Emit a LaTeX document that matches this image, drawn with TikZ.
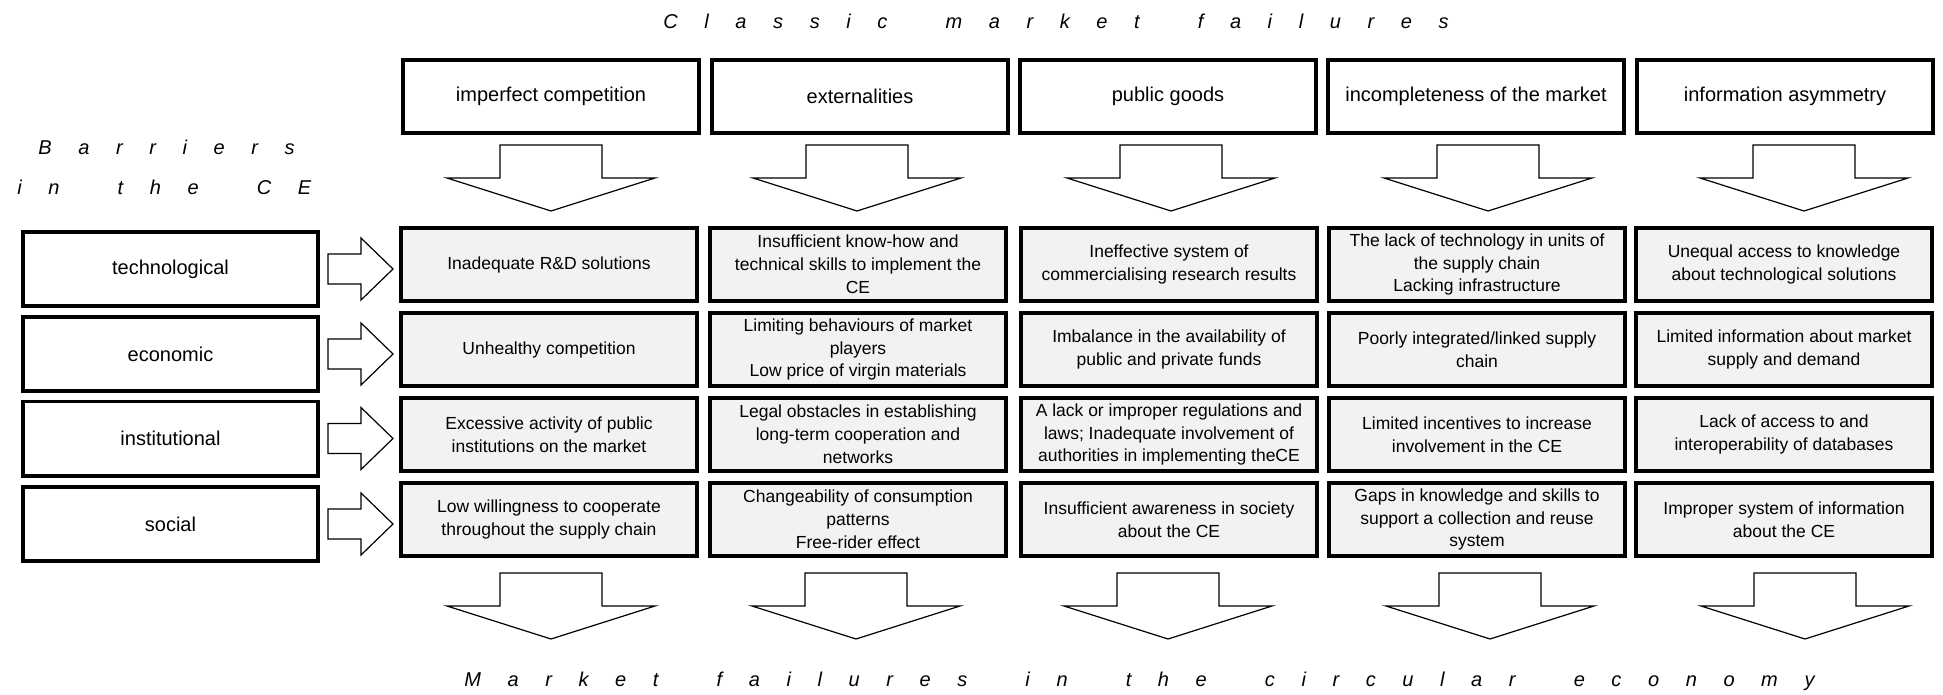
\documentclass[tikz,border=0pt]{standalone}
\usepackage{fontspec}
\setmainfont{Liberation Sans}
\usetikzlibrary{calc}
\definecolor{cellGray}{RGB}{242,242,242}
\newcommand{\wordGap}{\hspace{13pt}}

\begin{document}
\begin{tikzpicture}
[x=0.5pt,y=-0.5pt,
  boxDecorate/.style={draw,line width=1.8pt,inner sep=1pt,align=center},
  headDecorate/.style={boxDecorate,minimum width=148.2pt,minimum height=36.7pt,
    font={\fontsize{10}{12}\selectfont}},
  barrierDecorate/.style={boxDecorate,minimum width=147.7pt,minimum height=37.2pt,
    font={\fontsize{10}{12}\selectfont}},
  cellDecorate/.style={boxDecorate,fill=cellGray,minimum width=148.2pt,minimum height=36.7pt,
    font={\fontsize{8.75}{11.4}\selectfont}},
  titleDecorate/.style={anchor=west,inner sep=0pt,
    font={\fontsize{10}{12}\selectfont\itshape\addfontfeature{LetterSpace=133}}},
  arrowDecorate/.style={draw,line width=0.6pt,fill=white,line join=miter},
  downArrow/.pic={\draw[arrowDecorate] (-51,0) -- (51,0) -- (51,33) -- (104,33)
    -- (0,66) -- (-104,33) -- (-51,33) -- cycle;},
  rightArrow/.pic={\draw[arrowDecorate] (0,-15) -- (33,-15) -- (33,-31) -- (65,0)
    -- (33,31) -- (33,15) -- (0,15) -- cycle;}]
\useasboundingbox (0,0) rectangle (1943,695);
%% titles
\node[titleDecorate] (classic) at (663,21) {Classic \wordGap market \wordGap failures};
\node[titleDecorate] (barriers) at (38,147) {Barriers};
\node[titleDecorate] (inthece) at (17,187) {in \wordGap the \wordGap CE};
\node[titleDecorate] (circular) at (464,681)
  {Market \wordGap failures \wordGap in \wordGap the \wordGap circular \wordGap economy};
%% classic market failures
\foreach \nodename/\x/\txt in {
  h1/551/imperfect competition,
  h2/860/externalities,
  h3/1168/public goods,
  h4/1476/incompleteness of the market,
  h5/1785/information asymmetry}
{
  \node (\nodename) at (\x,96.5) [headDecorate] {\txt};
}
%% barriers in the CE
\foreach \nodename/\y/\txt in {
  b1/269/technological,
  b2/354/economic,
  b3/438.5/institutional,
  b4/524/social}
{
  \node (\nodename) at (170.5,\y) [barrierDecorate] {\txt};
}
%% market failures in the CE
\foreach \nodename/\x/\y/\txt in {
  c1-1/549/264.5/{Inadequate R\&D solutions},
  c2-1/858/264.5/{Insufficient know-how and\\technical skills to implement the\\CE},
  c3-1/1169/264.5/{Ineffective system of\\commercialising research results},
  c4-1/1477/264.5/{The lack of technology in units of\\the supply chain\\Lacking infrastructure},
  c5-1/1784/264.5/{Unequal access to knowledge\\about technological solutions},
  c1-2/549/349.5/{Unhealthy competition},
  c2-2/858/349.5/{Limiting behaviours of market\\players\\Low price of virgin materials},
  c3-2/1169/349.5/{Imbalance in the availability of\\public and private funds},
  c4-2/1477/349.5/{Poorly integrated/linked supply\\chain},
  c5-2/1784/349.5/{Limited information about market\\supply and demand},
  c1-3/549/434.5/{Excessive activity of public\\institutions on the market},
  c2-3/858/434.5/{Legal obstacles in establishing\\long-term cooperation and\\networks},
  c3-3/1169/434.5/{A lack or improper regulations and\\laws; Inadequate involvement of\\authorities in implementing theCE},
  c4-3/1477/434.5/{Limited incentives to increase\\involvement in the CE},
  c5-3/1784/434.5/{Lack of access to and\\interoperability of databases},
  c1-4/549/519.5/{Low willingness to cooperate\\throughout the supply chain},
  c2-4/858/519.5/{Changeability of consumption\\patterns\\Free-rider effect},
  c3-4/1169/519.5/{Insufficient awareness in society\\about the CE},
  c4-4/1477/519.5/{Gaps in knowledge and skills to\\support a collection and reuse\\system},
  c5-4/1784/519.5/{Improper system of information\\about the CE}}
{
  \node (\nodename) at (\x,\y) [cellDecorate] {\txt};
}
%% block arrows
\foreach \col/\dx in {1/0,2/-3,3/3,4/12,5/19}
{
  \pic at ($(h\col.south)+(\dx,10)$) {downArrow};
}
\foreach \col/\dx in {1/2,2/-2,3/-1,4/13,5/21}
{
  \pic at ($(c\col-4.south)+(\dx,15)$) {downArrow};
}
\foreach \row in {1,2,3,4}
{
  \pic at ($(b\row.east)+(8,0)$) {rightArrow};
}
\end{tikzpicture}
\end{document}
